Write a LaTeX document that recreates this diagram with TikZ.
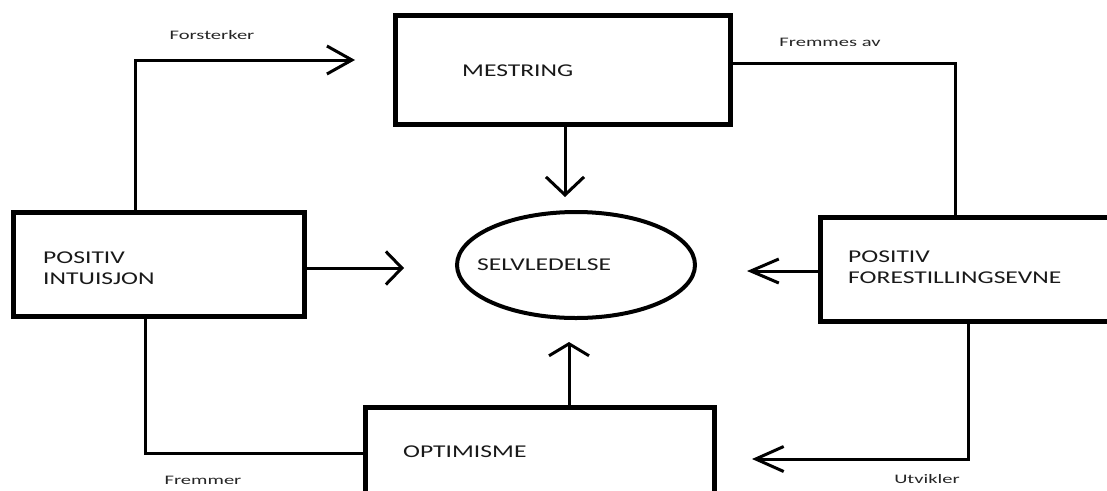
\documentclass[tikz,border=0pt]{standalone}
\usepackage{fontspec}
\setmainfont{Carlito}
\newfontfamily\boxfont[FakeStretch=1.42]{Carlito}
\newfontfamily\labfont[FakeStretch=1.58]{Carlito}
\usetikzlibrary{arrows.meta,shapes.geometric}
\begin{document}
\begin{tikzpicture}[x=1pt,y=-1pt,
  box/.style={draw,line width=5pt,rectangle,inner sep=0pt},
  conn/.style={line width=3pt,line join=miter},
  barb/.style 2 args={-{Straight Barb[length=#1,width=#2]}},
  boxtext/.style={inner sep=0pt,anchor=west,align=left,text=black!90,
    font=\boxfont\fontsize{18}{21.5}\selectfont},
  lab/.style={inner sep=0pt,text=black!85,
    font=\labfont\fontsize{13}{15}\selectfont}]

\useasboundingbox (0,0) rectangle (1107,490);
\fill[white] (0,0) rectangle (1107,490);
\clip (0,0) rectangle (1107,490);

% boxes and the central ellipse
\node[box,minimum width=291pt,minimum height=104pt] (lbox) at (159,264.5) {};
\node[box,minimum width=335pt,minimum height=109pt] (mbox) at (563,70) {};
\node[box,minimum width=320pt,minimum height=104pt] (rbox) at (980.5,269.5) {};
\node[box,minimum width=349pt,minimum height=103pt] (obox) at (540,459) {};
\node[draw,ellipse,line width=4pt,minimum width=238pt,minimum height=106pt,
  inner sep=0pt] (sel) at (576,265) {};

% texts inside the shapes
\node[boxtext] (tm) at (462,71) {MESTRING};
\node[boxtext] (tl) at (43,268) {POSITIV\\INTUISJON};
\node[boxtext] (tr) at (848,267) {POSITIV\\FORESTILLINGSEVNE};
\node[boxtext] (ts) at (477,265) {SELVLEDELSE};
\node[boxtext] (topt) at (403,452) {OPTIMISME};

% connector labels
\node[lab] (lforst) at (212,35) {Forsterker};
\node[lab] (lfremav) at (830,42) {Fremmes av};
\node[lab] (lfremmer) at (203,480) {Fremmer};
\node[lab] (lutv) at (927,479) {Utvikler};

% connectors
\coordinate (a1) at (135,60);
\coordinate (a1tip) at (355,60);
\draw[conn,barb={25pt}{28pt}] (lbox.north -| a1) -- (a1) -- (a1tip);

\coordinate (a2) at (955,63);
\draw[conn] (mbox.east |- a2) -- (a2) -- (rbox.north -| a2);

\coordinate (a3tip) at (565,197);
\draw[conn,barb={18pt}{38pt}] (mbox.south -| a3tip) -- (a3tip);

\coordinate (a4tip) at (404,268);
\draw[conn,barb={16pt}{33pt}] (lbox.east |- a4tip) -- (a4tip);

\coordinate (a5tip) at (747,271);
\draw[conn,barb={28pt}{24pt}] (rbox.west |- a5tip) -- (a5tip);

\coordinate (a6tip) at (569,342);
\draw[conn,barb={12pt}{40pt}] (obox.north -| a6tip) -- (a6tip);

\coordinate (a7) at (145,453);
\draw[conn] (lbox.south -| a7) -- (a7) -- (obox.west |- a7);

\coordinate (a8) at (968,459);
\coordinate (a8tip) at (752,459);
\draw[conn,barb={28pt}{25pt}] (rbox.south -| a8) -- (a8) -- (a8tip);

\end{tikzpicture}
\end{document}
